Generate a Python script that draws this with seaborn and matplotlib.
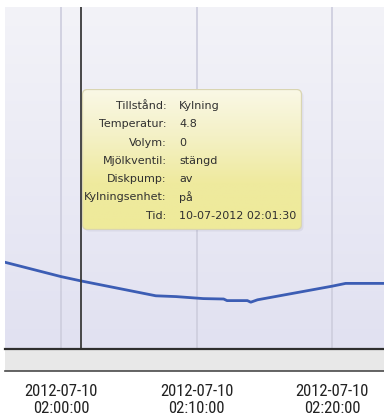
import numpy as np
import pandas as pd
import matplotlib
matplotlib.use("Agg")
import matplotlib.pyplot as plt
import matplotlib.dates as mdates
from matplotlib import font_manager
from matplotlib.patches import FancyBboxPatch
from matplotlib.colors import LinearSegmentedColormap
import seaborn as sns

# Temperature log (tank cooling), 2012-07-10
times = ["01:55:30", "02:00:00", "02:01:30", "02:07:00", "02:08:30", "02:10:30",
         "02:12:00", "02:12:15", "02:13:45", "02:14:00", "02:14:30", "02:20:00",
         "02:21:00", "02:24:30"]
temperature = [5.30, 4.91, 4.80, 4.43, 4.41, 4.36,
               4.35, 4.31, 4.31, 4.27, 4.33, 4.67,
               4.74, 4.74]

# Hover info for the selected sample
cursor_time = "02:01:30"
info_labels = ["Tillstånd:", "Temperatur:", "Volym:", "Mjölkventil:",
               "Diskpump:", "Kylningsenhet:", "Tid:"]
info_values = ["Kylning", "4.8", "0", "stängd", "av", "på", "10-07-2012 02:01:30"]

day = "2012-07-10 "
df = pd.DataFrame({"Tid": pd.to_datetime([day + t for t in times]),
                   "Temperatur": temperature})

sns.set_style("white")
plt.rcParams["font.family"] = ["DejaVu Sans"]


def pick_font(candidates):
    for name, size in candidates:
        try:
            font_manager.findfont(font_manager.FontProperties(family=name),
                                  fallback_to_default=False)
            return name, size
        except Exception:
            continue
    return "DejaVu Sans", 9.5


# narrow face for the time axis labels
tick_font, tick_size = pick_font([("Liberation Sans Narrow", 12.4),
                                  ("Roboto Condensed", 12.0),
                                  ("DejaVu Sans Condensed", 11.5),
                                  ("Liberation Sans", 10.3)])

W, H = 384, 418
fig = plt.figure(figsize=(W / 100, H / 100), dpi=100)
fig.patch.set_facecolor("white")


def fbox(x0, y0, x1, y1):
    return [x0 / W, 1 - y1 / H, (x1 - x0) / W, (y1 - y0) / H]


ax = fig.add_axes(fbox(5, 7, 384, 349))
band = fig.add_axes(fbox(5, 349, 384, 371), sharex=ax)

# soft lavender gradient behind the plot, lighter at the top
grad = np.linspace(0, 1, 256).reshape(-1, 1)
bg_cmap = LinearSegmentedColormap.from_list("bg", ["#f3f3f8", "#e1e1f1"])
ax.imshow(grad, cmap=bg_cmap, aspect="auto", extent=(0, 1, 0, 1),
          transform=ax.transAxes, zorder=0)

sns.lineplot(data=df, x="Tid", y="Temperatur", ax=ax, color="#3c5db4",
             linewidth=2.0, zorder=3)

x_lo = pd.Timestamp(day + "01:55:52")
x_hi = pd.Timestamp(day + "02:23:50")
ax.set_xlim(x_lo, x_hi)
ax.set_ylim(3.1, 11.65)

locator = mdates.MinuteLocator(byminute=[0, 10, 20, 30, 40, 50])
ax.xaxis.set_major_locator(locator)
ax.xaxis.set_major_formatter(mdates.DateFormatter("%Y-%m-%d\n%H:%M:%S"))

# vertical gridlines at the time ticks
ax.grid(axis="x", color="#cfcfdf", linewidth=1.3, zorder=1)
ax.grid(axis="y", visible=False)
ax.set_axisbelow(False)
for ln in ax.get_xgridlines():
    ln.set_zorder(1)

ax.tick_params(axis="both", which="both", length=0, labelbottom=False,
               labelleft=False)
ax.set_xlabel("")
ax.set_ylabel("")
for s in ax.spines.values():
    s.set_visible(False)

# cursor line at selected sample
ax.axvline(pd.Timestamp(day + cursor_time), color="#3a3a3a", linewidth=1.3,
           zorder=4)

# gray strip below the plot holding the time axis
band.set_facecolor("#e8e8e8")
band.set_yticks([])
for name in ("left", "right"):
    band.spines[name].set_visible(False)
band.spines["top"].set_color("#2e2e2e")
band.spines["top"].set_linewidth(1.6)
band.spines["bottom"].set_color("#4a4a4a")
band.spines["bottom"].set_linewidth(1.2)
band.tick_params(axis="x", direction="out", length=6.5, width=1.2,
                 color="#4a4a4a", pad=2.5, labelsize=tick_size,
                 labelcolor="#222222")
for lbl in band.get_xticklabels():
    lbl.set_fontfamily([tick_font, "DejaVu Sans"])
    lbl.set_linespacing(1.18)
band.set_xlabel("")

# tooltip box
tx0, ty0, tx1, ty1 = 82, 89, 302, 230
tw, th = tx1 - tx0, ty1 - ty0
tip = fig.add_axes(fbox(tx0, ty0, tx1, ty1))
tip.set_xlim(0, tw)
tip.set_ylim(th, 0)
tip.axis("off")
tip.set_zorder(10)

shadow = FancyBboxPatch((2.5, 2.5), tw - 1, th - 1,
                        boxstyle="round,pad=0,rounding_size=5",
                        facecolor="#8080a0", edgecolor="none", alpha=0.12,
                        clip_on=False, zorder=0)
tip.add_patch(shadow)

box = FancyBboxPatch((0.5, 0.5), tw - 1, th - 1,
                     boxstyle="round,pad=0,rounding_size=5",
                     facecolor="none", edgecolor="#d9d5b2", linewidth=0.9,
                     zorder=3)
tip.add_patch(box)
tip_cmap = LinearSegmentedColormap.from_list(
    "tip", ["#faf8e6", "#f4f1c6", "#efea9e", "#eeea9a"])
img = tip.imshow(grad, cmap=tip_cmap, aspect="auto", extent=(0, tw, th, 0),
                 zorder=1)
img.set_clip_path(box)

for i, (lab, val) in enumerate(zip(info_labels, info_values)):
    yy = 16 + i * 18.3
    tip.text(84.7, yy, lab, ha="right", va="center_baseline", fontsize=8,
             color="#303030", zorder=4)
    tip.text(97, yy, val, ha="left", va="center_baseline", fontsize=8,
             color="#303030", zorder=4)

fig.savefig("out.png", dpi=100, facecolor="white")
